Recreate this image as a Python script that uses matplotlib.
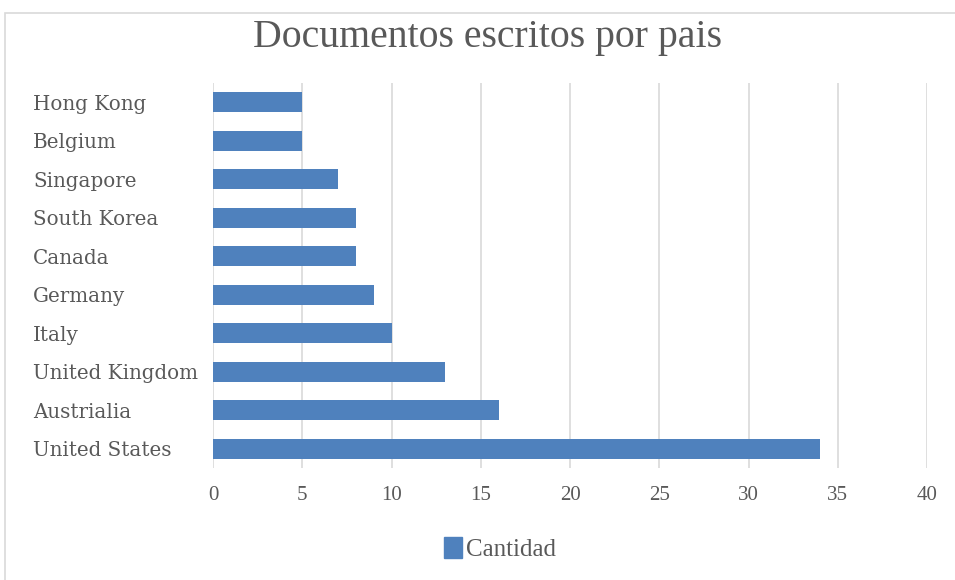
import matplotlib.pyplot as plt
from matplotlib.patches import Rectangle, Patch

paises = ['United States', 'Austrialia', 'United Kingdom', 'Italy', 'Germany',
          'Canada', 'South Korea', 'Singapore', 'Belgium', 'Hong Kong']
cantidad = [34, 16, 13, 10, 9, 8, 8, 7, 5, 5]
ticks = [0, 5, 10, 15, 20, 25, 30, 35, 40]

azul = '#4F81BD'
gris_texto = '#595959'

fig = plt.figure(figsize=(9.55, 5.8), dpi=100)
W, H = 955, 580
# plot area in pixels: x 213..927, y 83..468
ax = fig.add_axes([213 / W, 1 - 468 / H, (927 - 213) / W, (468 - 83) / H])

ax.barh(range(len(paises)), cantidad, height=0.52, color=azul, zorder=3)
ax.set_xlim(0, 40)
ax.set_ylim(-0.5, len(paises) - 0.5)
ax.set_xticks(ticks)
ax.set_yticks(range(len(paises)))
ax.set_yticklabels(paises, fontsize=14.3, color=gris_texto, family='DejaVu Serif', ha='left')
ax.set_xticklabels([str(t) for t in ticks], fontsize=15, color=gris_texto, family='Liberation Serif')
# pad is in points: 180 px -> 129.6 pt
ax.tick_params(axis='y', length=0, pad=180 * 0.72)
ax.tick_params(axis='x', length=0, pad=13)
ax.grid(axis='x', color='#D9D9D9', linewidth=1.2, zorder=0)
for s in ax.spines.values():
    s.set_visible(False)

fig.text(487 / W, 1 - 38 / H, 'Documentos escritos por pais', ha='center', va='center',
         fontsize=28.6, color=gris_texto, family='Liberation Serif')

leg = fig.legend(handles=[Patch(color=azul, label='Cantidad')], loc='center',
                 bbox_to_anchor=(500 / W, 1 - 549 / H), frameon=False,
                 prop={'family': 'Liberation Serif', 'size': 18},
                 handlelength=0.7, handleheight=0.9, handletextpad=0.15)
for t in leg.get_texts():
    t.set_color(gris_texto)

# frame of the chart area
fig.patches.append(Rectangle((5 / W, -0.01), 1.0, 1 - 13 / H + 0.01, transform=fig.transFigure,
                             fill=False, edgecolor='#D9D9D9', linewidth=1.2))

fig.savefig('out.png', dpi=100)
